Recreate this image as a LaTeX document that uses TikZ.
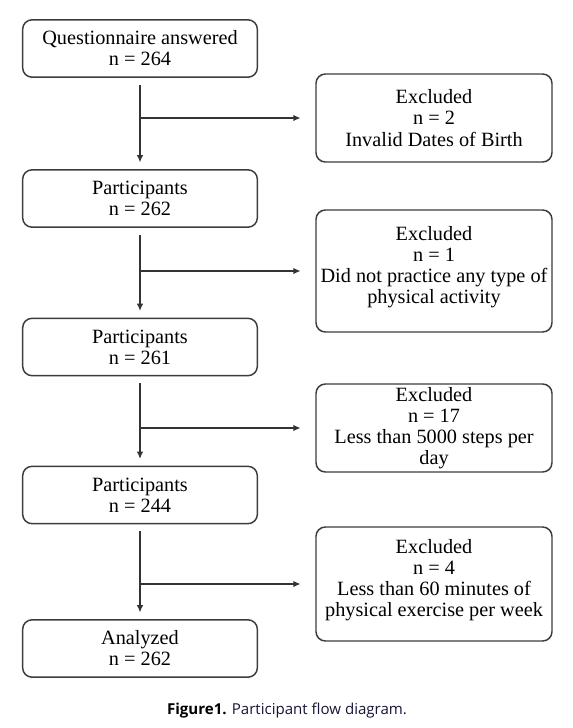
\documentclass[tikz,border=0pt]{standalone}
\usepackage{fontspec}
\setmainfont{Liberation Serif}
\newfontfamily\capfont{Open Sans}
\usetikzlibrary{arrows.meta, positioning}
\definecolor{edgec}{RGB}{60,60,60}
\definecolor{capc}{RGB}{22,22,55}

\begin{document}
\begin{tikzpicture}[x=0.75pt, y=-0.75pt,
    box/.style={draw=edgec, line width=1.1pt, rounded corners=7pt, minimum width=176pt,
      minimum height=43pt, align=center, inner sep=0pt,
      font=\fontsize{15.2}{15.8}\selectfont},
    exbox/.style={box, minimum width=177pt},
    arr/.style={-{Latex[length=5.5pt, width=5pt]}, line width=1.1pt, black!80}]
  \useasboundingbox (0,0) rectangle (572,728);
  % main column
  \node[box] (quest) at (140,48.5) {Questionnaire answered\\n = 264};
  \node[box] (part1) at (140,198.5) {Participants\\n = 262};
  \node[box] (part2) at (140,347) {Participants\\n = 261};
  \node[box] (part3) at (140,495) {Participants\\n = 244};
  \node[box] (anal) at (140,648.5) {Analyzed\\n = 262};
  % exclusions
  \node[exbox, minimum height=66pt] (excl1) at (434,118) {Excluded\\n = 2\\Invalid Dates of Birth};
  \node[exbox, minimum height=91.5pt] (excl2) at (434,271) {Excluded\\n = 1\\Did not practice any type of\\physical activity\rule[-9.5pt]{0pt}{0pt}};
  \node[exbox, minimum height=66pt] (excl3) at (434,428) {Excluded\\n = 17\\Less than 5000 steps per\\day};
  \node[exbox, minimum height=85.5pt] (excl4) at (434,584) {Excluded\\n = 4\\Less than 60 minutes of\\physical exercise per week\rule[-9.5pt]{0pt}{0pt}};
  \draw[arr, shorten <=5pt, shorten >=5pt] (quest.south) -- (part1.north);
  \draw[arr, shorten <=5pt, shorten >=5pt] (part1.south) -- (part2.north);
  \draw[arr, shorten <=5pt, shorten >=5pt] (part2.south) -- (part3.north);
  \draw[arr, shorten <=5pt, shorten >=5pt] (part3.south) -- (anal.north);
  \draw[arr, shorten >=11pt] (quest.south |- excl1.west) -- (excl1.west);
  \draw[arr, shorten >=11pt] (part1.south |- excl2.west) -- (excl2.west);
  \draw[arr, shorten >=11pt] (part2.south |- excl3.west) -- (excl3.west);
  \draw[arr, shorten >=11pt] (part3.south |- excl4.west) -- (excl4.west);
  % caption
  \node[font=\capfont\fontsize{11.3}{13}\selectfont] (cap) at (287,711)
    {\textbf{Figure1.} \textcolor{capc}{Participant flow diagram.}};
\end{tikzpicture}
\end{document}
